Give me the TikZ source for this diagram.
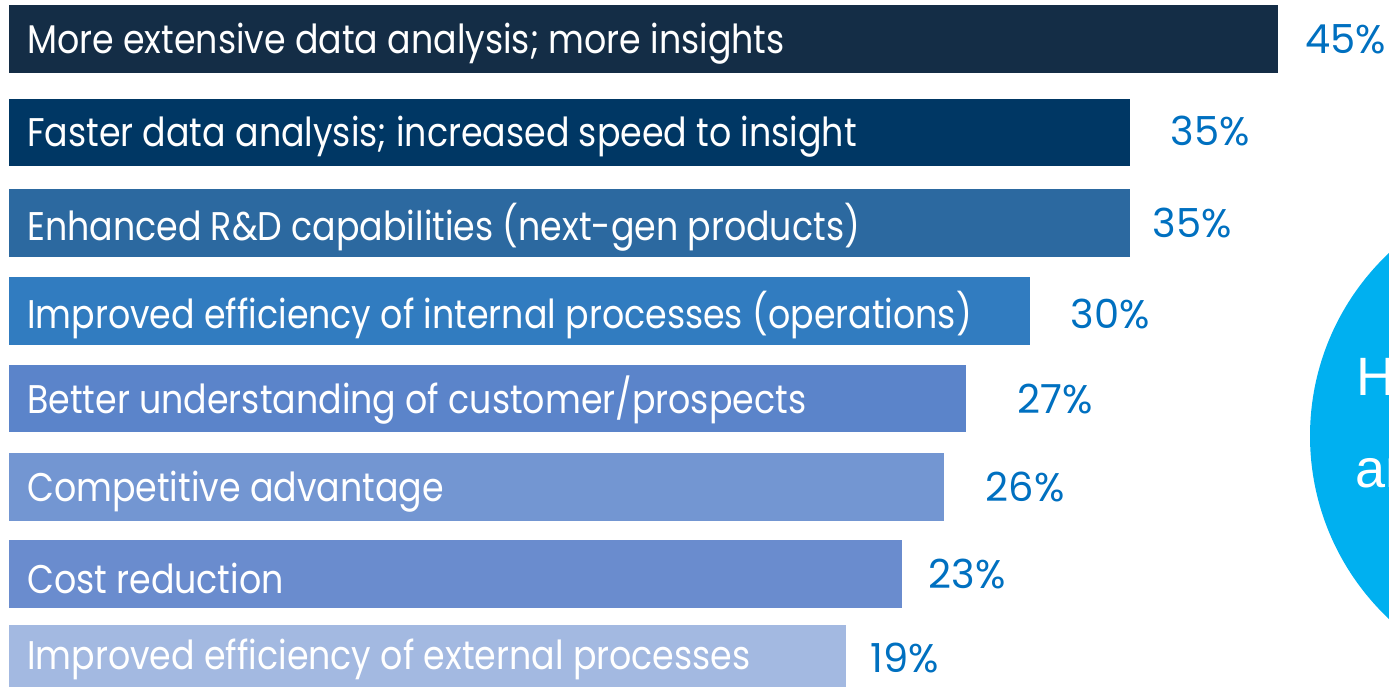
\documentclass[tikz,border=0pt]{standalone}
\usepackage{fontspec}
\usetikzlibrary{positioning}
\newfontfamily\barfont{Poppins}[FakeStretch=0.87]
\newfontfamily\pctfont{Poppins}
\newfontfamily\circfont{Liberation Sans}
\definecolor{barA}{HTML}{142D46}
\definecolor{barB}{HTML}{003764}
\definecolor{barC}{HTML}{2C69A0}
\definecolor{barD}{HTML}{317CC0}
\definecolor{barE}{HTML}{5B84CA}
\definecolor{barF}{HTML}{7396D2}
\definecolor{barG}{HTML}{6A8CCE}
\definecolor{barH}{HTML}{A3B9E1}
\definecolor{pctblue}{HTML}{0070C0}
\definecolor{circblue}{HTML}{00B0F0}
\tikzset{bar/.style={anchor=north west,minimum height=68pt,inner sep=0pt},
  bartext/.style={anchor=west,inner sep=0pt,text=white,font=\barfont\fontsize{40}{44}\selectfont},
  pct/.style={inner sep=0pt,text=pctblue,font=\pctfont\fontsize{40}{44}\selectfont},
  circtext/.style={anchor=base west,inner sep=0pt,text=white,font=\circfont\fontsize{54}{60}\selectfont}}

\begin{document}
\begin{tikzpicture}[x=1pt,y=-1pt]
  \useasboundingbox (0,0) rectangle (1389,687);
  \clip (0,0) rectangle (1389,687);
  % kreis rechts
  \fill[circblue] (1561.5,436) circle (251.5);
  \node[circtext] (circH) at (1356,395) {H};
  \node[circtext] (circA) at (1355,487) {an};
  % balken
  \node[bar,fill=barA,minimum width=1269pt] (bar1) at (9,5) {};
  \node[bar,fill=barB,minimum width=1121pt,minimum height=67pt] (bar2) at (9,99) {};
  \node[bar,fill=barC,minimum width=1121pt] (bar3) at (9,189) {};
  \node[bar,fill=barD,minimum width=1021pt] (bar4) at (9,277) {};
  \node[bar,fill=barE,minimum width=957pt,minimum height=67pt] (bar5) at (9,365) {};
  \node[bar,fill=barF,minimum width=935pt] (bar6) at (9,453) {};
  \node[bar,fill=barG,minimum width=893pt] (bar7) at (9,540) {};
  \node[bar,fill=barH,minimum width=837pt,minimum height=62pt] (bar8) at (9,625) {};
  % beschriftung
  \node[bartext,right=18pt of bar1.west,yshift=-4pt] (txt1) {More extensive data analysis; more insights};
  \node[bartext,right=18pt of bar2.west,yshift=-4pt] (txt2) {Faster data analysis; increased speed to insight};
  \node[bartext,right=18pt of bar3.west,yshift=-4pt] (txt3) {Enhanced R\&D capabilities (next-gen products)};
  \node[bartext,right=18pt of bar4.west,yshift=-4pt] (txt4) {Improved efficiency of internal processes (operations)};
  \node[bartext,right=18pt of bar5.west,yshift=-1pt] (txt5) {Better understanding of customer/prospects};
  \node[bartext,right=18pt of bar6.west,yshift=-4pt] (txt6) {Competitive advantage};
  \node[bartext,right=18pt of bar7.west,yshift=-4pt] (txt7) {Cost reduction};
  \node[bartext,right=18pt of bar8.west,yshift=-3pt] (txt8) {Improved efficiency of external processes};
  % prozente
  \node[pct,right=27pt of bar1] (pct1) {45\%};
  \node[pct,right=40pt of bar2,yshift=1.5pt] (pct2) {35\%};
  \node[pct,right=22pt of bar3] (pct3) {35\%};
  \node[pct,right=40pt of bar4,yshift=-3pt] (pct4) {30\%};
  \node[pct,right=51pt of bar5] (pct5) {27\%};
  \node[pct,right=41pt of bar6] (pct6) {26\%};
  \node[pct,right=26pt of bar7] (pct7) {23\%};
  \node[pct,right=24pt of bar8,yshift=-2pt] (pct8) {19\%};
\end{tikzpicture}
\end{document}
